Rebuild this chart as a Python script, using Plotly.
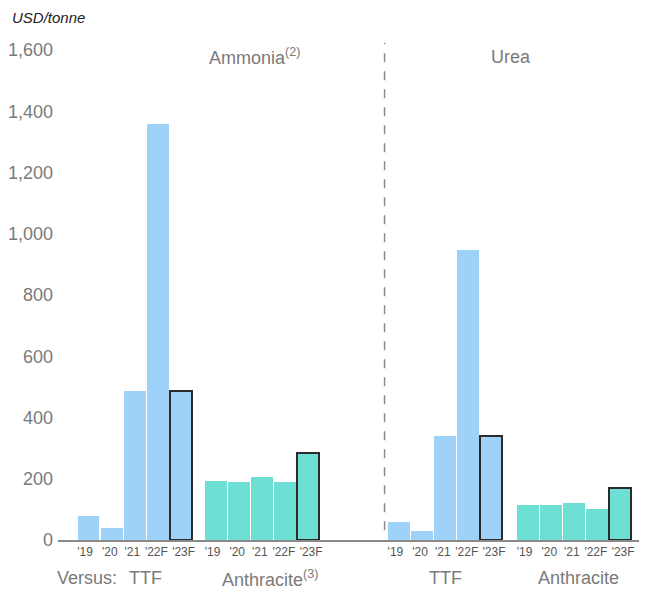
import plotly.graph_objects as go

# ---- data ----
years = ["'19", "'20", "'21", "'22F", "'23F"]
ammonia_ttf = [80, 40, 487, 1358, 487]
ammonia_anthracite = [193, 188, 205, 188, 284]
urea_ttf = [58, 28, 340, 947, 341]
urea_anthracite = [114, 114, 120, 101, 170]
group_labels = ["TTF", "Anthracite<sup>(3)</sup>", "TTF", "Anthracite"]
panel_titles = ["Ammonia<sup>(2)</sup>", "Urea"]

# ---- layout constants ----
BLUE = "#9FD2F8"
TEAL = "#6EDFD4"
GRAY = "#7a7a7a"
FONT = "Liberation Sans, Arial, sans-serif"
group_starts = [0, 5.52, 13.44, 19.03]
label_nudge = [-0.15, -0.08, -0.1, -0.06, 0.12]
series = [ammonia_ttf, ammonia_anthracite, urea_ttf, urea_anthracite]
colors = [BLUE, TEAL, BLUE, TEAL]

fig = go.Figure()
tickvals, ticktext = [], []
for start, vals, col in zip(group_starts, series, colors):
    xs = [start + i for i in range(len(vals))]
    lw = [2 if y == "'23F" else 0 for y in years]
    fig.add_trace(go.Bar(
        x=xs, y=vals, width=0.95,
        marker=dict(color=col, line=dict(color="#2b2b2b", width=lw)),
        showlegend=False, hoverinfo="y",
    ))
    tickvals += [x + n for x, n in zip(xs, label_nudge)]
    ticktext += years

fig.update_layout(
    width=639, height=587,
    margin=dict(l=50, r=7, t=42, b=55),
    plot_bgcolor="white", paper_bgcolor="white",
    font=dict(family=FONT, color=GRAY),
    bargap=0,
    xaxis=dict(
        range=[-1.32, 23.88], tickvals=tickvals, ticktext=ticktext,
        tickangle=0, automargin=False,
        tickfont=dict(size=12, color="#555"), showgrid=False, zeroline=False,
        showline=True, linecolor="#8a8a8a", linewidth=1.5, ticks="",
    ),
    yaxis=dict(
        range=[0, 1600], tickvals=list(range(0, 1601, 200)), tickformat=",",
        automargin=False, ticklabelstandoff=4,
        tickfont=dict(size=18, color=GRAY), showgrid=False, zeroline=False,
        showline=False, ticks="", ticklen=0,
    ),
)

# dashed separator
fig.add_shape(type="line", xref="x", yref="paper", x0=12.82, x1=12.82,
              y0=0.02, y1=1.015, line=dict(color="#8a8a8a", width=1.5, dash="dash"))

# panel titles
fig.add_annotation(x=7.2, y=0.986, xref="x", yref="paper", text=panel_titles[0],
                   showarrow=False, font=dict(size=18, color=GRAY),
                   xanchor="center", yanchor="middle")
fig.add_annotation(x=18.3, y=0.986, xref="x", yref="paper", text=panel_titles[1],
                   showarrow=False, font=dict(size=18, color=GRAY),
                   xanchor="center", yanchor="middle")

# group labels
label_x = [2.45, 7.85, 15.44, 21.2]
for lx, txt in zip(label_x, group_labels):
    fig.add_annotation(x=lx, y=-0.078, xref="x", yref="paper", text=txt,
                       showarrow=False, font=dict(size=18, color=GRAY),
                       xanchor="center", yanchor="middle")
fig.add_annotation(x=-0.005, y=-0.078, xref="paper", yref="paper", text="Versus:",
                   showarrow=False, font=dict(size=18, color=GRAY),
                   xanchor="left", yanchor="middle")

# unit label
fig.add_annotation(x=-0.083, y=1.067, xref="paper", yref="paper", text="<i>USD/tonne</i>",
                   showarrow=False, font=dict(size=15, color="#222"),
                   xanchor="left", yanchor="middle")

fig.write_html("out.html")
